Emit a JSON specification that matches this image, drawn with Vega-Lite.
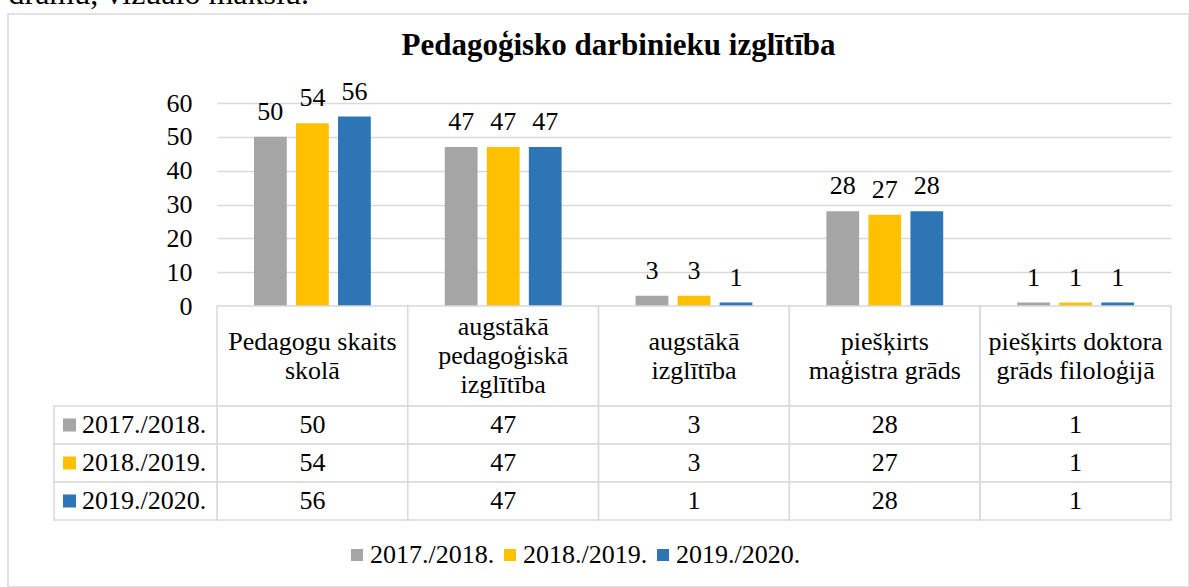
{
  "$schema": "https://vega.github.io/schema/vega-lite/v6.json",
  "width": 1181,
  "height": 573,
  "autosize": {"type": "none"},
  "padding": {"left": 8, "top": 14, "right": 0, "bottom": 0},
  "background": "white",
  "config": {
    "view": {"stroke": "#D9D9D9", "strokeWidth": 1.5},
    "font": "Liberation Serif",
    "text": {"font": "Liberation Serif", "fontSize": 26, "color": "black"}
  },
  "title": {
    "text": "Pedagoģisko darbinieku izglītība",
    "font": "Liberation Serif",
    "fontSize": 31,
    "fontWeight": "bold",
    "color": "black",
    "anchor": "middle",
    "frame": "group",
    "orient": "top",
    "baseline": "alphabetic",
    "offset": -36,
    "dx": 20,
    "dy": 73
  },
  "data": {
    "values": [
      {"category": "Pedagogu skaits\nskolā", "series": "2017./2018.", "value": 50},
      {"category": "Pedagogu skaits\nskolā", "series": "2018./2019.", "value": 54},
      {"category": "Pedagogu skaits\nskolā", "series": "2019./2020.", "value": 56},
      {"category": "augstākā\npedagoģiskā\nizglītība", "series": "2017./2018.", "value": 47},
      {"category": "augstākā\npedagoģiskā\nizglītība", "series": "2018./2019.", "value": 47},
      {"category": "augstākā\npedagoģiskā\nizglītība", "series": "2019./2020.", "value": 47},
      {"category": "augstākā\nizglītība", "series": "2017./2018.", "value": 3},
      {"category": "augstākā\nizglītība", "series": "2018./2019.", "value": 3},
      {"category": "augstākā\nizglītība", "series": "2019./2020.", "value": 1},
      {"category": "piešķirts\nmaģistra grāds", "series": "2017./2018.", "value": 28},
      {"category": "piešķirts\nmaģistra grāds", "series": "2018./2019.", "value": 27},
      {"category": "piešķirts\nmaģistra grāds", "series": "2019./2020.", "value": 28},
      {"category": "piešķirts doktora\ngrāds filoloģijā", "series": "2017./2018.", "value": 1},
      {"category": "piešķirts doktora\ngrāds filoloģijā", "series": "2018./2019.", "value": 1},
      {"category": "piešķirts doktora\ngrāds filoloģijā", "series": "2019./2020.", "value": 1}
    ]
  },
  "resolve": {"scale": {"x": "independent", "y": "independent"}},
  "layer": [
    {
      "encoding": {
        "x": {"field": "category", "type": "nominal", "sort": null, "scale": {"range": [209, 1163], "paddingInner": 0, "paddingOuter": 0}, "axis": null},
        "xOffset": {"field": "series", "type": "nominal", "sort": null, "scale": {"paddingInner": 0.22, "paddingOuter": 0.88}},
        "y": {
          "field": "value",
          "type": "quantitative",
          "scale": {"domain": [0, 60], "range": [292, 89], "nice": false, "zero": true},
          "axis": {
            "orient": "left",
            "offset": -209,
            "values": [0, 10, 20, 30, 40, 50, 60],
            "grid": true,
            "gridColor": "#D9D9D9",
            "gridWidth": 1.5,
            "domain": false,
            "ticks": false,
            "labelPadding": 25,
            "labelFont": "Liberation Serif",
            "labelFontSize": 26,
            "labelColor": "black",
            "title": null
          }
        }
      },
      "layer": [
        {
          "mark": {"type": "bar"},
          "encoding": {
            "color": {
              "field": "series",
              "type": "nominal",
              "sort": null,
              "scale": {"domain": ["2017./2018.", "2018./2019.", "2019./2020."], "range": ["#A5A5A5", "#FFC000", "#2E75B6"]},
              "legend": {
                "orient": "none",
                "legendX": 336,
                "legendY": 528,
                "direction": "horizontal",
                "title": null,
                "symbolType": "square",
                "symbolSize": 144,
                "symbolStrokeWidth": 0,
                "labelFont": "Liberation Serif",
                "labelFontSize": 26,
                "labelColor": "black",
                "labelOffset": 0,
                "columnPadding": 2,
                "padding": 0,
                "labelLimit": 300
              }
            }
          }
        },
        {
          "mark": {"type": "text", "baseline": "alphabetic", "dy": -17, "fontSize": 26},
          "encoding": {"text": {"field": "value", "type": "quantitative"}}
        }
      ]
    },
    {
      "transform": [{"filter": "datum.series == '2017./2018.'"}],
      "encoding": {
        "x": {"field": "category", "type": "nominal", "sort": null, "scale": {"range": [209, 1163], "paddingInner": 0, "paddingOuter": 0}, "axis": null},
        "y": {"datum": "header", "type": "nominal", "scale": {"range": [292, 392], "paddingInner": 0, "paddingOuter": 0}, "axis": null}
      },
      "layer": [
        {"mark": {"type": "rect", "fill": "white", "stroke": "#D9D9D9", "strokeWidth": 1.5}},
        {
          "mark": {
            "type": "text",
            "lineBreak": "\n",
            "lineHeight": 29,
            "baseline": "middle",
            "fontSize": 26,
            "dy": {"expr": "-(length(split(datum.category, '\\n')) - 1) * 14.5"}
          },
          "encoding": {"text": {"field": "category", "type": "nominal"}}
        }
      ]
    },
    {
      "encoding": {
        "x": {"field": "category", "type": "nominal", "sort": null, "scale": {"range": [209, 1163], "paddingInner": 0, "paddingOuter": 0}, "axis": null},
        "y": {"field": "series", "type": "nominal", "sort": null, "scale": {"range": [392, 506], "paddingInner": 0, "paddingOuter": 0}, "axis": null}
      },
      "layer": [
        {"mark": {"type": "rect", "fill": "white", "stroke": "#D9D9D9", "strokeWidth": 1.5}},
        {
          "mark": {"type": "text", "baseline": "middle", "fontSize": 26},
          "encoding": {"text": {"field": "value", "type": "quantitative"}}
        }
      ]
    },
    {
      "transform": [{"filter": "indexof(datum.category, 'Pedagogu') == 0"}],
      "encoding": {
        "x": {
          "datum": "label",
          "type": "nominal",
          "scale": {"range": [46, 209], "paddingInner": 0, "paddingOuter": 0},
          "axis": {
            "orient": "top",
            "domain": false,
            "ticks": false,
            "labels": false,
            "grid": false,
            "title": "dramu, vizuālo mākslu.",
            "titleX": 0,
            "titleY": -11,
            "titleAngle": 0,
            "titleAlign": "left",
            "titleAnchor": null,
            "titleBaseline": "alphabetic",
            "titleFont": "Liberation Serif",
            "titleFontSize": 32,
            "titleFontWeight": "normal",
            "titleColor": "black"
          }
        },
        "y": {"field": "series", "type": "nominal", "sort": null, "scale": {"range": [392, 506], "paddingInner": 0, "paddingOuter": 0}, "axis": null}
      },
      "layer": [
        {"mark": {"type": "rect", "fill": "white", "stroke": "#D9D9D9", "strokeWidth": 1.5}},
        {
          "mark": {"type": "point", "shape": "square", "filled": true, "size": 169, "opacity": 1},
          "encoding": {
            "x": {"datum": "label", "type": "nominal", "bandPosition": 0.095},
            "color": {"field": "series", "type": "nominal", "sort": null, "legend": null}
          }
        },
        {
          "mark": {"type": "text", "align": "left", "baseline": "middle", "fontSize": 26},
          "encoding": {
            "x": {"datum": "label", "type": "nominal", "bandPosition": 0.172},
            "text": {"field": "series", "type": "nominal"}
          }
        }
      ]
    }
  ]
}
